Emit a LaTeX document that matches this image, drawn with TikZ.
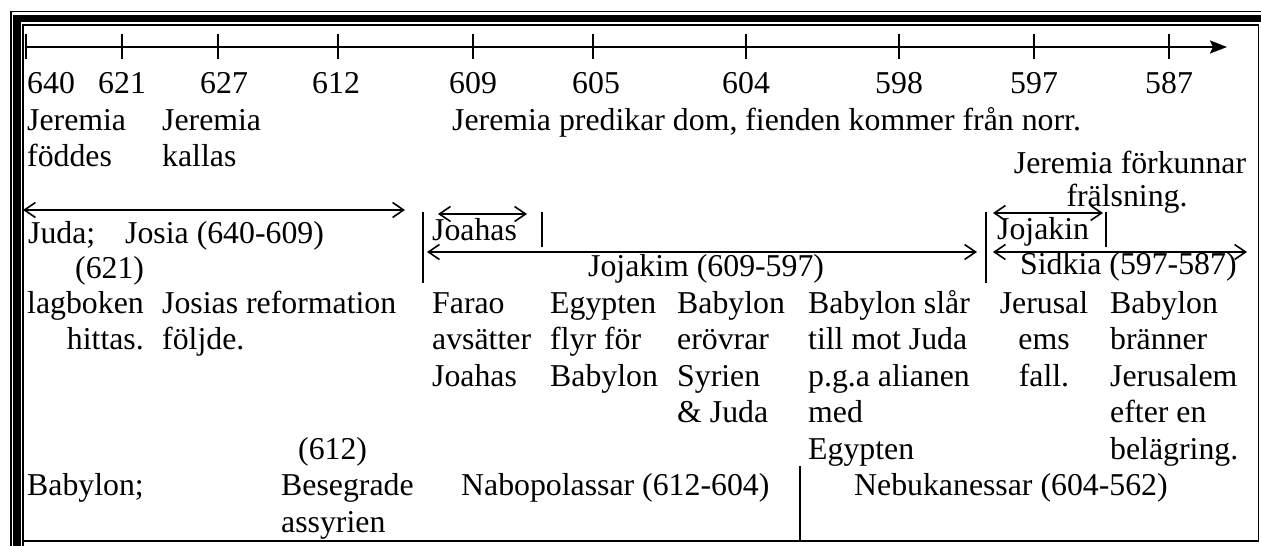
\documentclass[tikz,border=0pt]{standalone}
\usepackage{fontspec}
\setmainfont{Liberation Serif}
\usetikzlibrary{arrows.meta}
\begin{document}
\begin{tikzpicture}[x=1pt,y=-1pt,
  txt/.style={anchor=base west, inner sep=0pt, font=\fontsize{31.8}{35.5}\selectfont},
  txtr/.style={txt, anchor=base east},
  txtc/.style={txt, anchor=base},
  frameline/.style={line width=1.5pt},
  axisline/.style={line width=2pt, -{Stealth[length=17pt,width=13pt,inset=3pt]}},
  tickline/.style={line width=1.5pt},
  spanarrow/.style={line width=1.6pt, {Straight Barb[length=11pt,width=15pt]}-{Straight Barb[length=11pt,width=15pt]}},
  sepline/.style={line width=1.5pt}]
\useasboundingbox (0,0) rectangle (1261,546);
% frame
\draw[line width=1.8pt] (11,546) -- (11,11.5) -- (1262,11.5);
\draw[line width=7.5pt] (16.75,546) -- (16.75,18.25) -- (1262,18.25);
\draw[frameline] (23,546) -- (23,25) -- (1258.5,25) -- (1258.5,541) -- (23,541);
% time axis
\coordinate (axA) at (26,47);
\coordinate (axB) at (1227,47);
\draw[axisline] (axA) -- (axB);
\foreach \x in {26,122,218,338,473,593,746,899,1034,1169}
  \draw[tickline] (\x,34) -- (\x,59);
% years
\node[txt] (y640) at (27,93) {640};
\node[txt] (y621) at (98,93) {621};
\node[txt] (y627) at (200,93) {627};
\node[txt] (y612) at (312,93) {612};
\node[txt] (y609) at (449,93) {609};
\node[txt] (y605) at (572,93) {605};
\node[txt] (y604) at (722,93) {604};
\node[txt] (y598) at (875,93) {598};
\node[txt] (y597) at (1010,93) {597};
\node[txt] (y587) at (1145,93) {587};
% Jeremia rows
\node[txt] (jer1a) at (27,130) {Jeremia};
\node[txt] (jer1b) at (27,166) {föddes};
\node[txt] (jer2a) at (162,130) {Jeremia};
\node[txt] (jer2b) at (162,166) {kallas};
\node[txt] (jer3) at (452,130) {Jeremia predikar dom, fienden kommer från norr.};
\node[txtc] (jer4a) at (1130,173) {Jeremia förkunnar};
\node[txtc] (jer4b) at (1127,206) {frälsning.};
% kings of Juda
\coordinate (josL) at (23,210);
\coordinate (josR) at (405,210);
\draw[spanarrow] (josL) -- (josR);
\node[txt] (juda) at (28,243) {Juda;};
\node[txt] (josia) at (125,243) {Josia (640-609)};
\node[txt] (y621b) at (75,278) {(621)};
\draw[sepline] (423,212) -- (423,283);
\draw[sepline] (542,212) -- (542,247);
\coordinate (joaL) at (438,214);
\coordinate (joaR) at (527,214);
\draw[spanarrow] (joaL) -- (joaR);
\node[txt] (joahas) at (432,240) {Joahas};
\coordinate (jkmL) at (427,252);
\coordinate (jkmR) at (977,252);
\draw[spanarrow] (jkmL) -- (jkmR);
\node[txt] (jojakim) at (588,276) {Jojakim (609-597)};
\draw[sepline] (986,212) -- (986,283);
\draw[sepline] (1106,212) -- (1106,247);
\coordinate (jknL) at (993,213);
\coordinate (jknR) at (1103,213);
\draw[spanarrow] (jknL) -- (jknR);
\node[txt] (jojakin) at (997,239) {Jojakin};
\coordinate (sidL) at (993,252);
\coordinate (sidR) at (1247,252);
\draw[spanarrow] (sidL) -- (sidR);
\node[txt] (sidkia) at (1020,274) {Sidkia (597-587)};
% events
\node[txt] (c1a) at (27,313) {lagboken};
\node[txtr] (c1b) at (144,349.5) {hittas.};
\node[txt] (c2a) at (162,313) {Josias reformation};
\node[txt] (c2b) at (162,349.5) {följde.};
\node[txt] (c3a) at (432,313) {Farao};
\node[txt] (c3b) at (432,349.5) {avsätter};
\node[txt] (c3c) at (432,386) {Joahas};
\node[txt] (c4a) at (550,313) {Egypten};
\node[txt] (c4b) at (550,349.5) {flyr för};
\node[txt] (c4c) at (550,386) {Babylon};
\node[txt] (c5a) at (677,313) {Babylon};
\node[txt] (c5b) at (677,349.5) {erövrar};
\node[txt] (c5c) at (677,386) {Syrien};
\node[txt] (c5d) at (677,422.5) {\& Juda};
\node[txt] (c6a) at (808,313) {Babylon slår};
\node[txt] (c6b) at (808,349.5) {till mot Juda};
\node[txt] (c6c) at (808,386) {p.g.a alianen};
\node[txt] (c6d) at (808,422.5) {med};
\node[txt] (c6e) at (808,459) {Egypten};
\node[txtc] (c7a) at (1044,313) {Jerusal};
\node[txtc] (c7b) at (1044,349.5) {ems};
\node[txtc] (c7c) at (1044,386) {fall.};
\node[txt] (c8a) at (1110,313) {Babylon};
\node[txt] (c8b) at (1110,349.5) {bränner};
\node[txt] (c8c) at (1110,386) {Jerusalem};
\node[txt] (c8d) at (1110,422.5) {efter en};
\node[txt] (c8e) at (1110,459) {belägring.};
% Babylon
\node[txt] (bab) at (27,495.5) {Babylon;};
\node[txt] (b612) at (298,459) {(612)};
\node[txt] (beseg) at (281,495.5) {Besegrade};
\node[txt] (assyr) at (281,532) {assyrien};
\node[txt] (nabo) at (461,495.5) {Nabopolassar (612-604)};
\node[txt] (nebu) at (854,495.5) {Nebukanessar (604-562)};
\draw[sepline] (800,466) -- (800,541);
\end{tikzpicture}
\end{document}
